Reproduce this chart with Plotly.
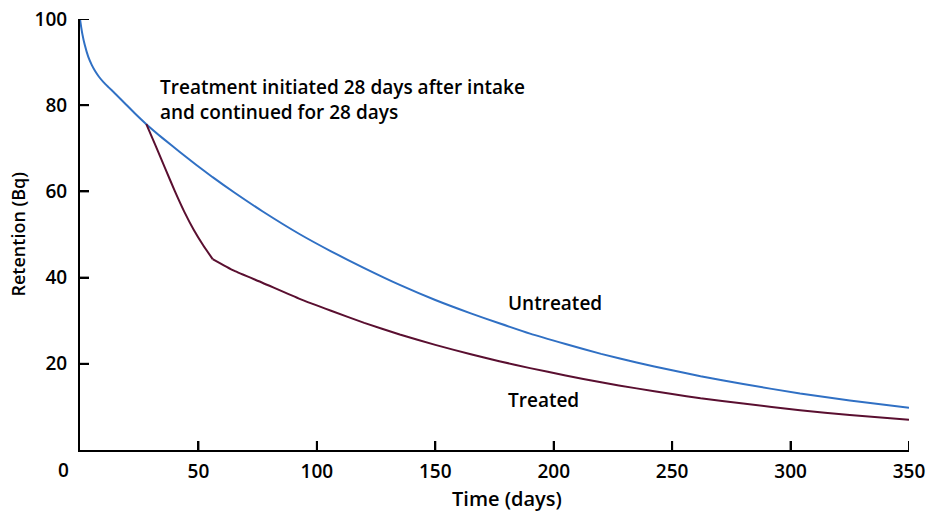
import plotly.graph_objects as go

# Untreated retention curve (days, Bq)
untreated_days = [0, 0.5, 1, 2, 3.5, 5, 6.5, 8, 10, 12, 15, 19, 23, 28, 35, 42, 49, 56, 65, 77, 93, 106,
                  120, 135, 150, 165, 177, 190, 205, 220, 235, 250, 262, 280, 304, 325, 350]
untreated_vals = [100, 98.1, 96.5, 94.0, 91.2, 89.3, 87.8, 86.6, 85.3, 84.2, 82.6, 80.4, 78.2, 75.6,
                  72.3, 69.2, 66.2, 63.3, 59.8, 55.4, 50.0, 46.1, 42.2, 38.3, 34.8, 31.7, 29.4, 27.0,
                  24.6, 22.3, 20.3, 18.5, 17.1, 15.3, 13.1, 11.5, 9.8]

# Treated retention curve (treatment from day 28 to day 56)
treated_days = [28, 32, 36, 40, 44, 48, 52, 56, 65, 77, 93, 106, 120, 135, 150, 165, 177, 190, 205, 220,
                235, 250, 262, 280, 304, 325, 350]
treated_vals = [75.6, 70.5, 65.3, 60.1, 55.3, 51.1, 47.5, 44.3, 41.6, 38.8, 35.0, 32.3, 29.5, 26.8,
                24.4, 22.2, 20.6, 19.0, 17.3, 15.7, 14.3, 13.0, 12.0, 10.8, 9.2, 8.1, 7.0]

x_ticks = [50, 100, 150, 200, 250, 300, 350]
y_ticks = [20, 40, 60, 80, 100]

FONT = "Open Sans"
TXT = dict(size=19, family=FONT, weight=600, color="black")
TICK_LEN = 9

fig = go.Figure()
fig.add_trace(go.Scatter(x=untreated_days, y=untreated_vals, mode="lines", line_shape="spline",
                         line=dict(color="#3070c4", width=2, smoothing=0.5), name="Untreated"))
fig.add_trace(go.Scatter(x=treated_days[:8], y=treated_vals[:8], mode="lines", line_shape="spline",
                         line=dict(color="#5a0f30", width=2, smoothing=0.5), name="Treated"))
fig.add_trace(go.Scatter(x=treated_days[7:], y=treated_vals[7:], mode="lines", line_shape="spline",
                         line=dict(color="#5a0f30", width=2, smoothing=0.5), name="Treated"))

axis_common = dict(ticks="inside", ticklen=TICK_LEN, tickwidth=2, tickcolor="#000000",
                   showline=True, linecolor="#000000", linewidth=2, showgrid=False,
                   zeroline=False, tickfont=TXT, automargin=False)

fig.update_layout(
    width=929, height=514,
    margin=dict(l=80, r=20, t=19, b=64, autoexpand=False),
    plot_bgcolor="white", paper_bgcolor="white",
    showlegend=False,
    font=TXT,
    xaxis=dict(range=[0, 350], tickvals=x_ticks, ticklabelstandoff=3, **axis_common),
    yaxis=dict(range=[0, 100], tickvals=y_ticks, ticklabelstandoff=7, **axis_common),
)

# inward tick marks drawn explicitly at the tick values
for t in x_ticks:
    fig.add_shape(type="line", xref="x", yref="y", x0=t, x1=t, ysizemode="pixel", yanchor=0,
                  y0=0, y1=TICK_LEN, line=dict(color="#000000", width=2))
for t in y_ticks:
    fig.add_shape(type="line", xref="x", yref="y", y0=t, y1=t, xsizemode="pixel", xanchor=0,
                  x0=0, x1=TICK_LEN, line=dict(color="#000000", width=2))

# axis titles
fig.add_annotation(x=0.515, y=0, xref="paper", yref="paper", text="Time (days)", showarrow=False,
                   xanchor="center", yanchor="top", yshift=-33,
                   font=dict(size=20, family=FONT, weight=600))
fig.add_annotation(x=0, y=0.5, xref="paper", yref="paper", text="Retention (Bq)", showarrow=False,
                   textangle=-90, xanchor="center", yanchor="middle", xshift=-63,
                   font=dict(size=18, family=FONT, weight=600))

fig.add_annotation(x=0, y=0, xref="x", yref="y", text="0", showarrow=False,
                   xanchor="right", yanchor="top", xshift=-9, yshift=-5, font=TXT)
fig.add_annotation(x=33, y=81.3, xref="x", yref="y",
                   text="Treatment initiated 28 days after intake<br>and continued for 28 days",
                   showarrow=False, xanchor="left", yanchor="middle", align="left", font=TXT)
fig.add_annotation(x=179.7, y=34.2, xref="x", yref="y", text="Untreated", showarrow=False,
                   xanchor="left", yanchor="middle", font=TXT)
fig.add_annotation(x=179.7, y=11.6, xref="x", yref="y", text="Treated", showarrow=False,
                   xanchor="left", yanchor="middle", font=TXT)

fig.write_html("out.html")
